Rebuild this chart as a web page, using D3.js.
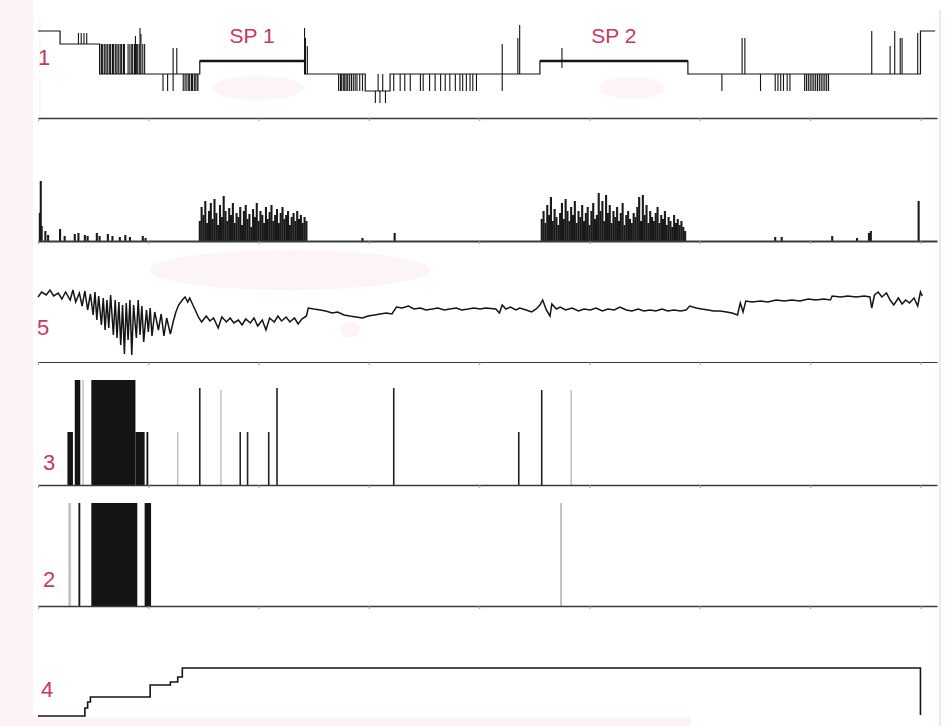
<!DOCTYPE html>
<html><head><meta charset="utf-8">
<script src="https://cdn.jsdelivr.net/npm/d3@7"></script>
<style>body{margin:0;background:#fff}svg{display:block}</style>
</head><body>
<svg id="c" width="947" height="726"></svg>
<script>
// ---------- DATA (x in 30-s epochs, 0..960 = 8 h) ----------
const hourTicks = [0,120,240,360,480,600,720,840,960];
const channelNames = ["1","5","3","2","4"];
const spPeriods = [{name:"SP 1",start:176,end:290,level:57},{name:"SP 2",start:546,end:707,level:57}];

// channel 1: step trace [epoch, level]
const hypnoSteps = [[0,87],[24,74],[67,44],[176,57],[290,44],[356,27],[383,44],[546,57],[707,44],[960,87],[976,87]];
// channel 1: brief transitions [epoch, fromLevel, toLevel]
const hypnoSpikes = [
 [44,74,85],[47,74,85],[50,74,85],[53,74,85],
 [67,44,74],[69,44,74],[70,44,74],[72,44,74],[73,44,74],[75,44,74],[76,44,74],[78,44,74],[79,44,74],[81,44,74],
 [82,44,74],[84,44,74],[85,44,74],[87,44,74],[88,44,74],[90,44,74],[91,44,74],[93,44,74],[94,44,74],
 [98,44,74],[100,44,74],[102,44,74],[103,44,74],[105,44,74],[106,44,82],[107,44,74],[108,44,74],[110,44,74],
 [111,44,90],[112,44,84],[114,44,74],[116,44,74],
 [136,44,27],[141,44,27],[147,44,27],[147,44,70],[151,44,70],
 [158,44,27],[160,44,27],[162,44,27],[164,44,27],[165,44,27],[167,44,27],[168,44,27],[170,44,27],[171,44,27],[173,44,27],[174,44,27],
 [290,44,90],[291,44,80],[293,44,72],
 [327,44,27],[329,44,27],[330,44,27],[332,44,27],[333,44,27],[334,44,27],[336,44,27],[337,44,27],[339,44,27],
 [341,44,27],[343,44,27],[345,44,27],[347,44,27],[350,44,27],[353,44,27],
 [367,27,15],[372,27,15],[378,27,15],[370,27,44],[375,27,44],
 [387,44,27],[394,44,27],[399,44,27],[405,44,27],[416,44,27],[419,44,27],[426,44,27],[432,44,27],[438,44,27],
 [443,44,27],[448,44,27],[454,44,27],[459,44,27],[462,44,27],[466,44,27],[470,44,27],[473,44,27],[477,44,27],
 [505,27,74],[522,44,80],[524,44,93],[570,50,70],
 [744,44,27],[766,44,80],[769,44,80],[786,44,27],
 [802,44,27],[805,44,27],[808,44,27],[811,44,27],[815,44,27],[818,44,27],
 [834,44,27],[836,44,27],[838,44,27],[840,44,27],[842,44,27],[844,44,27],[846,44,27],[848,44,27],[850,44,27],
 [852,44,27],[854,44,27],[856,44,27],[858,44,27],[860,44,27],
 [907,44,87],[927,44,72],[932,44,87],[938,44,80],[940,44,80],[957,44,85]
];

// unlabeled activity channel [epoch, amplitude]
const activity = [
 [2,28],[3,60],[4,15],[8,10],[11,6],[24,12],[29,5],[40,7],[44,8],[51,6],[54,5],[64,8],[67,5],[76,7],[81,5],
 [89,4],[95,6],[100,4],[114,5],[117,3],[353,3],[388,8],
 [176,20],[178,34],[180,26],[182,40],[184,18],[186,30],[188,38],[190,22],[192,42],[194,28],[196,16],[198,36],
 [200,24],[202,45],[204,30],[206,20],[208,33],[210,26],[212,38],[214,18],[216,28],[218,24],[220,34],[222,16],
 [224,30],[226,36],[228,22],[230,27],[232,14],[234,32],[236,24],[238,38],[240,20],[242,30],[244,26],[246,18],
 [248,34],[250,22],[252,29],[254,36],[256,20],[258,26],[260,32],[262,18],[264,28],[266,34],[268,22],[270,26],
 [272,30],[274,16],[276,24],[278,28],[280,20],[282,30],[284,22],[286,26],[288,18],[290,24],[292,20],
 [548,22],[550,30],[552,18],[554,36],[556,26],[558,44],[560,20],[562,32],[564,24],[566,16],[568,28],[570,38],
 [572,22],[574,42],[576,30],[578,20],[580,34],[582,26],[584,40],[586,18],[588,30],[590,24],[592,36],[594,20],
 [596,28],[598,34],[600,16],[602,30],[604,38],[606,22],[608,26],[610,48],[612,30],[614,40],[616,20],[618,46],
 [620,28],[622,36],[624,18],[626,30],[628,24],[630,34],[632,20],[634,28],[636,38],[638,16],[640,26],[642,30],
 [644,22],[646,18],[648,28],[650,24],[652,34],[654,44],[656,20],[658,46],[660,26],[662,36],[664,18],[666,30],
 [668,24],[670,20],[672,28],[674,34],[676,18],[678,26],[680,22],[682,30],[684,16],[686,24],[688,20],[690,14],
 [692,26],[694,18],[696,22],[698,16],[700,20],[702,14],[704,10],
 [802,4],[809,4],[864,5],[891,3],[904,8],[906,10],[958,40]
];

// channel 5: continuous trace [epoch, value]
const ch5 = [
 [0,65],[4,70],[9,67],[13,72],[17,66],[22,69],[26,63],[30,70],[35,62],[38,72],[41,60],[45,69],[48,56],[51,71],
 [54,52],[57,68],[60,47],[62,70],[64,42],[66,66],[69,37],[71,64],[73,32],[75,62],[77,34],[79,67],[82,27],[84,62],
 [86,24],[88,60],[90,17],[92,57],[94,8],[96,59],[98,22],[100,62],[102,7],[104,57],[107,24],[109,62],[111,27],
 [113,56],[115,20],[118,52],[120,30],[122,54],[124,26],[127,50],[131,32],[134,48],[137,26],[140,44],[144,28],
 [147,40],[150,50],[153,57],[157,62],[160,65],[163,60],[165,64],[169,56],[172,50],[175,44],[178,40],[183,46],
 [187,41],[191,44],[196,34],[200,45],[205,40],[209,44],[213,39],[218,42],[222,37],[226,43],[231,39],[235,44],
 [239,36],[244,42],[248,32],[252,44],[257,40],[261,46],[265,41],[270,45],[274,40],[279,44],[283,38],[287,43],
 [292,46],[294,54],[300,53],[307,52],[313,51],[320,49],[326,50],[333,47],[339,46],[346,45],[353,44],[359,46],
 [366,47],[372,48],[379,49],[385,48],[390,55],[396,54],[403,56],[409,53],[416,54],[422,52],[429,53],[435,54],
 [442,52],[448,53],[455,54],[461,52],[468,53],[474,54],[481,53],[487,54],[498,53],[502,49],[505,57],[509,53],
 [514,55],[520,52],[524,54],[531,52],[537,50],[542,53],[546,57],[549,62],[553,52],[557,46],[559,58],[564,53],
 [568,55],[574,52],[581,54],[588,51],[594,53],[601,52],[607,54],[614,51],[620,53],[627,52],[633,55],[640,52],
 [646,51],[653,53],[659,51],[666,52],[672,51],[679,53],[685,51],[692,52],[699,51],[705,52],[709,56],[716,54],
 [722,53],[729,52],[735,51],[742,51],[749,50],[755,49],[761,47],[764,59],[767,50],[770,61],[777,60],[786,61],
 [794,60],[803,62],[812,61],[820,62],[829,61],[838,63],[846,62],[855,63],[862,62],[864,66],[873,65],[881,66],
 [890,65],[899,66],[905,65],[907,54],[910,67],[914,70],[918,65],[923,69],[927,62],[931,57],[936,64],[940,58],
 [944,62],[948,59],[953,64],[957,56],[960,70],[962,66]
];

// channel 3: events [startEpoch, endEpoch, amplitude] and single events [epoch, amplitude]
const ch3Blocks = [[32,38,53],[40,46,105],[58,106,105],[106,116,53],[118,120,53]];
const ch3Events = [[176,97],[260,97],[387,97],[523,53],[548,95],[220,53],[228,53],[251,53]];
const ch3FaintEvents = [[49,105],[152,53],[199,95],[580,95]];

// channel 2
const ch2Blocks = [[44,46,103],[58,108,103],[116,123,103]];
const ch2FaintBlocks = [[33,36,103]];
const ch2FaintEvents = [[569,103]];

// channel 4: step trace [epoch, value]
const ch4 = [[0,4],[51,12],[54,18],[57,23],[122,35],[144,38],[152,43],[157,52],[960,5]];

// ---------- DRAWING ----------
const svg = d3.select("#c");
const red = "#c8385c";
const ink = "#141414";
const x = d3.scaleLinear().domain([0,978]).range([38,937]);

// background touches
svg.append("rect").attr("x",0).attr("y",0).attr("width",947).attr("height",726).attr("fill","#fff");
svg.append("rect").attr("x",0).attr("y",0).attr("width",33).attr("height",726).attr("fill","#fcf3f5");
svg.append("rect").attr("x",30).attr("y",717).attr("width",660).attr("height",9).attr("fill","#fdf3f5");
[[258,88,45,12],[632,88,33,11],[290,270,140,20],[350,330,10,8]].forEach(b=>
  svg.append("ellipse").attr("cx",b[0]).attr("cy",b[1]).attr("rx",b[2]).attr("ry",b[3]).attr("fill","#fbe6ec").attr("opacity",0.45));
svg.append("line").attr("x1",940).attr("x2",940).attr("y1",10).attr("y2",726).attr("stroke","#f2e6ea").attr("stroke-width",2);
svg.append("line").attr("x1",40).attr("x2",40).attr("y1",20).attr("y2",118).attr("stroke","#e4e4e4").attr("stroke-dasharray","2,3");

function axisAt(y, w){
  const g = svg.append("g").attr("transform",`translate(0,${y})`)
    .call(d3.axisBottom(x).tickValues(hourTicks).tickSize(3).tickSizeOuter(0).tickFormat(""));
  g.select(".domain").attr("stroke","#3a3a3a").attr("stroke-width",w);
  g.selectAll(".tick line").attr("stroke","#9a9a9a");
}

// ----- panel 1 -----
const y1 = d3.scaleLinear().domain([0,100]).range([118,18]);
svg.append("path").datum(hypnoSteps)
  .attr("d", d3.line().x(d=>x(d[0])).y(d=>y1(d[1])).curve(d3.curveStepAfter))
  .attr("fill","none").attr("stroke",ink).attr("stroke-width",1.2);
svg.append("g").selectAll("line").data(hypnoSpikes).join("line")
  .attr("x1",d=>x(d[0])).attr("x2",d=>x(d[0])).attr("y1",d=>y1(d[1])).attr("y2",d=>y1(d[2]))
  .attr("stroke",ink).attr("stroke-width",1.1);
svg.append("g").selectAll("line").data(spPeriods).join("line")
  .attr("x1",d=>x(d.start)).attr("x2",d=>x(d.end)).attr("y1",d=>y1(d.level)).attr("y2",d=>y1(d.level))
  .attr("stroke",ink).attr("stroke-width",2.4);
svg.append("g").selectAll("text").data(spPeriods).join("text")
  .attr("x",d=>x((d.start+d.end)/2)).attr("y",43).attr("text-anchor","middle")
  .attr("font-family","Liberation Sans, Arial, sans-serif").attr("font-size",21).attr("fill",red)
  .text(d=>d.name);
axisAt(118, 1.6);

// ----- panel 2 (activity) -----
const y2 = d3.scaleLinear().domain([0,100]).range([241,141]);
svg.append("g").selectAll("line").data(activity).join("line")
  .attr("x1",d=>x(d[0])).attr("x2",d=>x(d[0])).attr("y1",y2(0)).attr("y2",d=>y2(d[1]))
  .attr("stroke","#1a1a1a").attr("stroke-width",2.1);
axisAt(241, 2.2);

// ----- panel 3 (channel 5) -----
const y3 = d3.scaleLinear().domain([0,100]).range([362,262]);
svg.append("path").datum(ch5)
  .attr("d", d3.line().x(d=>x(d[0])).y(d=>y3(d[1])))
  .attr("fill","none").attr("stroke",ink).attr("stroke-width",1.5);
axisAt(362, 1.2);

// ----- panel 4 (channel 3) -----
const y4 = d3.scaleLinear().domain([0,100]).range([485,385]);
svg.append("g").selectAll("rect").data(ch3Blocks).join("rect")
  .attr("x",d=>x(d[0])).attr("width",d=>Math.max(1.5,x(d[1])-x(d[0])))
  .attr("y",d=>y4(d[2])).attr("height",d=>y4(0)-y4(d[2])).attr("fill",ink);
svg.append("g").selectAll("line").data(ch3Events).join("line")
  .attr("x1",d=>x(d[0])).attr("x2",d=>x(d[0])).attr("y1",y4(0)).attr("y2",d=>y4(d[1]))
  .attr("stroke","#222").attr("stroke-width",1.6);
svg.append("g").selectAll("line").data(ch3FaintEvents).join("line")
  .attr("x1",d=>x(d[0])).attr("x2",d=>x(d[0])).attr("y1",y4(0)).attr("y2",d=>y4(d[1]))
  .attr("stroke","#b0b0b0").attr("stroke-width",1.2);
axisAt(485, 1.4);

// ----- panel 5 (channel 2) -----
const y5 = d3.scaleLinear().domain([0,100]).range([606,506]);
svg.append("g").selectAll("rect").data(ch2Blocks).join("rect")
  .attr("x",d=>x(d[0])).attr("width",d=>Math.max(1.5,x(d[1])-x(d[0])))
  .attr("y",d=>y5(d[2])).attr("height",d=>y5(0)-y5(d[2])).attr("fill",ink);
svg.append("g").selectAll("rect").data(ch2FaintBlocks).join("rect")
  .attr("x",d=>x(d[0])).attr("width",d=>Math.max(1.5,x(d[1])-x(d[0])))
  .attr("y",d=>y5(d[2])).attr("height",d=>y5(0)-y5(d[2])).attr("fill","#c4c4c4");
svg.append("g").selectAll("line").data(ch2FaintEvents).join("line")
  .attr("x1",d=>x(d[0])).attr("x2",d=>x(d[0])).attr("y1",y5(0)).attr("y2",d=>y5(d[1]))
  .attr("stroke","#999").attr("stroke-width",1.2);
axisAt(606, 1.4);

// ----- panel 6 (channel 4) -----
const y6 = d3.scaleLinear().domain([0,100]).range([720,620]);
svg.append("path").datum(ch4)
  .attr("d", d3.line().x(d=>x(d[0])).y(d=>y6(d[1])).curve(d3.curveStepAfter))
  .attr("fill","none").attr("stroke",ink).attr("stroke-width",1.6);

// channel labels
const labelPos = [[38,65],[37,335],[43,470],[43,587],[41,697]];
svg.append("g").selectAll("text").data(channelNames).join("text")
  .attr("x",(d,i)=>labelPos[i][0]).attr("y",(d,i)=>labelPos[i][1])
  .attr("font-family","Liberation Sans, Arial, sans-serif").attr("font-size",22).attr("fill",red)
  .text(d=>d);
</script>
</body></html>
